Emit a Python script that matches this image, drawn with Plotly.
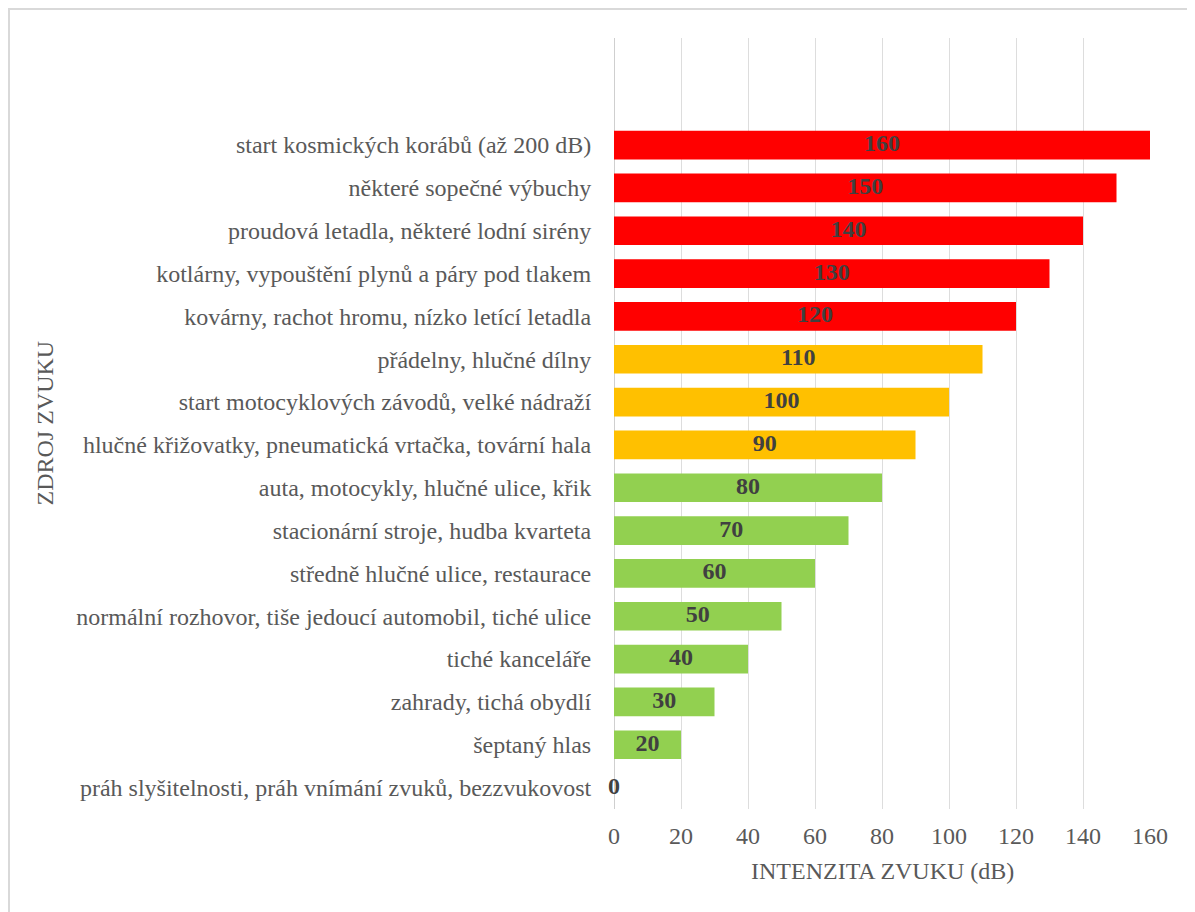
import plotly.graph_objects as go

categories = [
    "práh slyšitelnosti, práh vnímání zvuků, bezzvukovost",
    "šeptaný hlas",
    "zahrady, tichá obydlí",
    "tiché kanceláře",
    "normální rozhovor, tiše jedoucí automobil, tiché ulice",
    "středně hlučné ulice, restaurace",
    "stacionární stroje, hudba kvarteta",
    "auta, motocykly, hlučné ulice, křik",
    "hlučné křižovatky, pneumatická vrtačka, tovární hala",
    "start motocyklových závodů, velké nádraží",
    "přádelny, hlučné dílny",
    "kovárny, rachot hromu, nízko letící letadla",
    "kotlárny, vypouštění plynů a páry pod tlakem",
    "proudová letadla, některé lodní sirény",
    "některé sopečné výbuchy",
    "start kosmických korábů (až 200 dB)",
]
values = [0, 20, 30, 40, 50, 60, 70, 80, 90, 100, 110, 120, 130, 140, 150, 160]
levels = ["low"] * 8 + ["mid"] * 3 + ["high"] * 5
x_ticks = [0, 20, 40, 60, 80, 100, 120, 140, 160]
x_title = "INTENZITA ZVUKU (dB)"
y_title = "ZDROJ ZVUKU"

color_map = {"low": "#92D050", "mid": "#FFC000", "high": "#FF0000"}
colors = [color_map[l] for l in levels]

FONT = "Liberation Serif, Times New Roman, serif"
FS = 24
GRAY = "#595959"

W, H = 1195, 912
L, R, T, B = 606, 53, 30, 111
PW, PH = W - L - R, H - T - B

fig = go.Figure()
fig.add_trace(go.Bar(
    y=categories, x=values, orientation="h",
    marker=dict(color=colors, line=dict(width=0)),
    width=0.67, hoverinfo="x+y",
))
fig.add_trace(go.Scatter(
    y=categories, x=[v / 2 for v in values], mode="text",
    text=[f"<b>{v}</b>" for v in values],
    textposition="middle center",
    textfont=dict(family=FONT, size=24, color="#404040"),
    cliponaxis=False, hoverinfo="skip",
))

fig.update_layout(
    width=W, height=H,
    margin=dict(l=L, r=R, t=T, b=B, autoexpand=False),
    paper_bgcolor="white", plot_bgcolor="white",
    showlegend=False,
    font=dict(family=FONT, size=FS, color=GRAY),
    xaxis=dict(
        range=[0, 160], tickvals=x_ticks, showgrid=True,
        gridcolor="#DDDDDD", gridwidth=1.3, zeroline=False,
        showline=False, ticks="outside", ticklen=5, tickcolor="rgba(0,0,0,0)",
        tickfont=dict(family=FONT, size=FS, color=GRAY),
    ),
    yaxis=dict(
        type="category", categoryorder="array", categoryarray=categories,
        range=[-0.5, 17.5], showgrid=False, zeroline=False,
        showline=False, ticks="outside", ticklen=17, tickcolor="rgba(0,0,0,0)",
        tickfont=dict(family=FONT, size=FS, color=GRAY),
    ),
    shapes=[
        dict(type="line", xref="x", yref="paper", x0=0, x1=0, y0=0, y1=1,
             line=dict(color="#BFBFBF", width=1.5), layer="below"),
        dict(type="rect", xref="paper", yref="paper",
             x0=-(L - 1) / PW, x1=(W - L - 1) / PW + 0.02,
             y0=-(B + 10) / PH, y1=1 + (T - 1) / PH,
             line=dict(color="#D9D9D9", width=2), fillcolor="rgba(0,0,0,0)"),
    ],
    annotations=[
        dict(text=x_title, xref="paper", yref="paper", x=0.5, y=-(871 - 809) / PH,
             showarrow=False, yanchor="middle",
             font=dict(family=FONT, size=FS, color=GRAY)),
        dict(text=y_title, xref="paper", yref="paper", x=-(L - 36) / PW, y=0.5,
             showarrow=False, textangle=-90, xanchor="center", yanchor="middle",
             font=dict(family=FONT, size=FS, color=GRAY)),
    ],
)

fig.write_html("out.html")
